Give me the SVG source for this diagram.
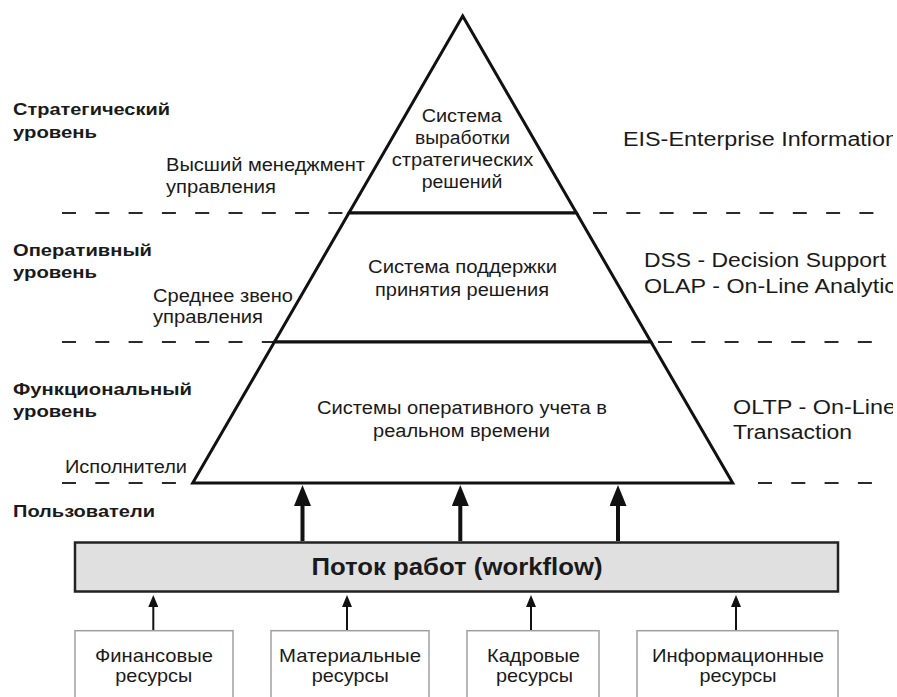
<svg xmlns="http://www.w3.org/2000/svg" width="897" height="697" viewBox="0 0 897 697">
  <style>
    text { font-family: "Liberation Sans", Arial, sans-serif; fill: #1a1a1a; }
    .lvl { font-size: 17px; font-weight: bold; }
    .role { font-size: 17.5px; }
    .sys { font-size: 18px; }
    .abbr { font-size: 20px; }
    .res { font-size: 19px; }
    .flow { font-size: 24px; font-weight: bold; }
    .tier { fill: #ffffff; stroke: #111111; stroke-width: 3; stroke-linejoin: miter; }
    .sep { stroke: #2a2a2a; stroke-width: 2; stroke-dasharray: 14 19.3; fill: none; }
    .resbox { fill: #ffffff; stroke: #a0a0a0; stroke-width: 1.5; }
    .big { stroke: #111111; stroke-width: 4; }
    .small { stroke: #111111; stroke-width: 2; }
  </style>
  <defs>
    <marker id="bigHead" markerUnits="userSpaceOnUse" markerWidth="21" markerHeight="17" viewBox="0 0 21 17" refX="0" refY="8.5" orient="auto">
      <path d="M0,0 L21,8.5 L0,17 Z" fill="#111111"/>
    </marker>
    <marker id="smallHead" markerUnits="userSpaceOnUse" markerWidth="12" markerHeight="10" viewBox="0 0 12 10" refX="0" refY="5" orient="auto">
      <path d="M0,0 L12,5 L0,10 Z" fill="#111111"/>
    </marker>
    <clipPath id="rightEdge">
      <rect x="0" y="0" width="893" height="697"/>
    </clipPath>
  </defs>
  <rect width="897" height="697" fill="#ffffff"/>

  <g id="level-separators">
    <line class="sep" x1="62" y1="213" x2="343" y2="213"/>
    <line class="sep" x1="593" y1="213" x2="874" y2="213"/>
    <line class="sep" x1="62" y1="342" x2="273" y2="342"/>
    <line class="sep" x1="658" y1="342" x2="873" y2="342"/>
    <line class="sep" x1="62" y1="483" x2="177" y2="483"/>
    <line class="sep" x1="758" y1="483" x2="873" y2="483"/>
  </g>

  <g id="level-labels">
    <text class="lvl" x="13" y="115" textLength="157" lengthAdjust="spacingAndGlyphs">Стратегический</text>
    <text class="lvl" x="13" y="137.5" textLength="84" lengthAdjust="spacingAndGlyphs">уровень</text>
    <text class="lvl" x="13" y="256" textLength="139" lengthAdjust="spacingAndGlyphs">Оперативный</text>
    <text class="lvl" x="13" y="278" textLength="84" lengthAdjust="spacingAndGlyphs">уровень</text>
    <text class="lvl" x="13" y="395" textLength="179" lengthAdjust="spacingAndGlyphs">Функциональный</text>
    <text class="lvl" x="13" y="417" textLength="84" lengthAdjust="spacingAndGlyphs">уровень</text>
    <text class="lvl" x="13" y="517" textLength="142" lengthAdjust="spacingAndGlyphs">Пользователи</text>
  </g>

  <g id="role-labels">
    <text class="role" x="166" y="170.5" textLength="199" lengthAdjust="spacingAndGlyphs">Высший менеджмент</text>
    <text class="role" x="166" y="193" textLength="110" lengthAdjust="spacingAndGlyphs">управления</text>
    <text class="role" x="153" y="301.5" textLength="140" lengthAdjust="spacingAndGlyphs">Среднее звено</text>
    <text class="role" x="153" y="323" textLength="110" lengthAdjust="spacingAndGlyphs">управления</text>
    <text class="role" x="65" y="473" textLength="122" lengthAdjust="spacingAndGlyphs">Исполнители</text>
  </g>

  <g id="system-labels" clip-path="url(#rightEdge)">
    <text class="abbr" x="623" y="146" textLength="275" lengthAdjust="spacingAndGlyphs">EIS-Enterprise Information</text>
    <text class="abbr" x="644" y="267" textLength="242" lengthAdjust="spacingAndGlyphs">DSS - Decision Support</text>
    <text class="abbr" x="644" y="292.5" textLength="252" lengthAdjust="spacingAndGlyphs">OLAP - On-Line Analytic</text>
    <text class="abbr" x="733" y="414" textLength="163" lengthAdjust="spacingAndGlyphs">OLTP - On-Line</text>
    <text class="abbr" x="733" y="439" textLength="119" lengthAdjust="spacingAndGlyphs">Transaction</text>
  </g>

  <g id="tier-strategic">
    <polygon class="tier" points="462.7,16 348.9,213 576.5,213"/>
    <text class="sys" x="421.7" y="122" textLength="80" lengthAdjust="spacingAndGlyphs">Система</text>
    <text class="sys" x="415" y="143.5" textLength="95" lengthAdjust="spacingAndGlyphs">выработки</text>
    <text class="sys" x="391.7" y="166" textLength="141.7" lengthAdjust="spacingAndGlyphs">стратегических</text>
    <text class="sys" x="421.7" y="188.3" textLength="80.6" lengthAdjust="spacingAndGlyphs">решений</text>
  </g>

  <g id="tier-operational">
    <polygon class="tier" points="348.9,213 576.5,213 651,342 274.4,342"/>
    <text class="sys" x="368" y="273" textLength="189" lengthAdjust="spacingAndGlyphs">Система поддержки</text>
    <text class="sys" x="375" y="296" textLength="174" lengthAdjust="spacingAndGlyphs">принятия решения</text>
  </g>

  <g id="tier-functional">
    <polygon class="tier" points="274.4,342 651,342 732.7,483 192.7,483"/>
    <text class="sys" x="317" y="414" textLength="290" lengthAdjust="spacingAndGlyphs">Системы оперативного учета в</text>
    <text class="sys" x="373" y="437" textLength="177" lengthAdjust="spacingAndGlyphs">реальном времени</text>
  </g>

  <g id="workflow">
    <rect x="75" y="542.5" width="763" height="49" fill="#e0e0e0" stroke="#222222" stroke-width="2.5"/>
    <text class="flow" x="311.5" y="574.5" textLength="291" lengthAdjust="spacingAndGlyphs">Поток работ (workflow)</text>
  </g>

  <g id="res-financial">
    <rect class="resbox" x="75" y="630.7" width="158" height="80"/>
    <text class="res" x="95" y="661.5" textLength="118" lengthAdjust="spacingAndGlyphs">Финансовые</text>
    <text class="res" x="115.3" y="682" textLength="77" lengthAdjust="spacingAndGlyphs">ресурсы</text>
  </g>
  <g id="res-material">
    <rect class="resbox" x="271" y="630.7" width="158" height="80"/>
    <text class="res" x="279" y="661.5" textLength="142" lengthAdjust="spacingAndGlyphs">Материальные</text>
    <text class="res" x="311.7" y="682" textLength="77" lengthAdjust="spacingAndGlyphs">ресурсы</text>
  </g>
  <g id="res-personnel">
    <rect class="resbox" x="467" y="630.7" width="132" height="80"/>
    <text class="res" x="487" y="661.5" textLength="93" lengthAdjust="spacingAndGlyphs">Кадровые</text>
    <text class="res" x="496" y="682" textLength="77" lengthAdjust="spacingAndGlyphs">ресурсы</text>
  </g>
  <g id="res-information">
    <rect class="resbox" x="637" y="630.7" width="201" height="80"/>
    <text class="res" x="652" y="661.5" textLength="172" lengthAdjust="spacingAndGlyphs">Информационные</text>
    <text class="res" x="699.5" y="682" textLength="77" lengthAdjust="spacingAndGlyphs">ресурсы</text>
  </g>

  <g id="connectors">
    <line class="big" x1="302.5" y1="541" x2="302.5" y2="506" marker-end="url(#bigHead)"/>
    <line class="big" x1="460.3" y1="541" x2="460.3" y2="506" marker-end="url(#bigHead)"/>
    <line class="big" x1="618" y1="541" x2="618" y2="506" marker-end="url(#bigHead)"/>
    <line class="small" x1="153.3" y1="630" x2="153.3" y2="607" marker-end="url(#smallHead)"/>
    <line class="small" x1="347" y1="630" x2="347" y2="607" marker-end="url(#smallHead)"/>
    <line class="small" x1="531" y1="630" x2="531" y2="607" marker-end="url(#smallHead)"/>
    <line class="small" x1="736" y1="630" x2="736" y2="607" marker-end="url(#smallHead)"/>
  </g>
</svg>
